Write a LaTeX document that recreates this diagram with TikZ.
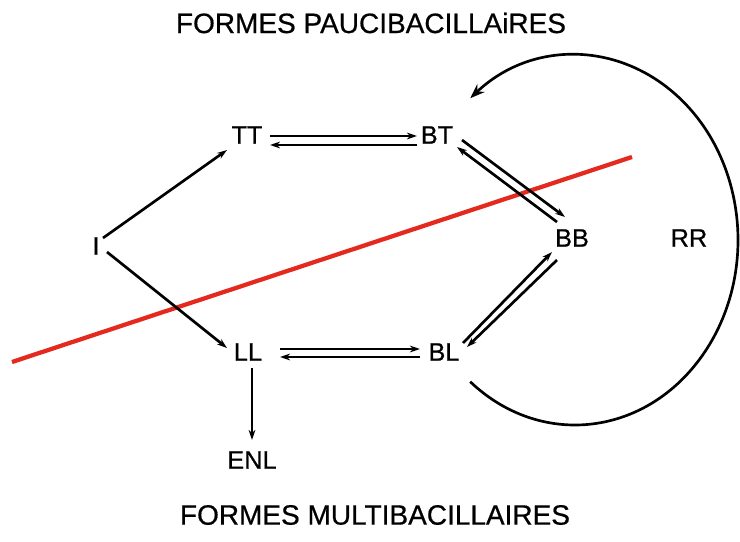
\documentclass[tikz,border=0pt]{standalone}
\usepackage{fontspec}
\setmainfont{Liberation Sans}
\newfontface\medfont{Liberation Sans}[FakeBold=0.6]
\usetikzlibrary{arrows.meta,calc}
\begin{document}
\begin{tikzpicture}[x=0.75pt,y=-0.75pt,
  lbl/.style={inner sep=0pt,font=\fontsize{19}{22}\medfont},
  ttl/.style={inner sep=0pt,font=\fontsize{21}{25}\medfont},
  arr/.style={line width=2pt,-{Stealth[length=7.5pt,width=5pt]}},
  redline/.style={line width=3.2pt,color=redl},
  loopline/.style={line width=2pt,-{Stealth[length=11pt,width=8pt]}},
]
\definecolor{redl}{RGB}{228,42,30}
\useasboundingbox (0,0) rectangle (740,542);
% titles
\node[ttl] (top) at (371,23) {FORMES PAUCIBACILLAiRES};
\node[ttl] (bot) at (375,515) {FORMES MULTIBACILLAIRES};
% red separation line
\coordinate (r1) at (12,362);
\coordinate (r2) at (632,157);
\draw[redline] (r1) -- (r2);
% nodes
\node[lbl] (I)   at (96,246)  {I};
\node[lbl] (TT)  at (247,135) {TT};
\node[lbl] (BT)  at (437,135) {BT};
\node[lbl] (LL)  at (248,352) {LL};
\node[lbl] (BL)  at (444,352) {BL};
\node[lbl] (BB)  at (572,238) {BB};
\node[lbl] (RR)  at (689,238) {RR};
\node[lbl] (ENL) at (252,460) {ENL};
% I to TT / LL
\draw[arr] ($(I)+(7,-8)$) -- ($(TT)+(-20,15)$);
\draw[arr] ($(I)+(11,6)$) -- ($(LL)+(-21,-4)$);
% TT <-> BT
\draw[arr] ($(TT)+(23,1)$) -- ($(BT)+(-20,1)$);
\draw[arr] ($(BT)+(-20,10)$) -- ($(TT)+(23,10)$);
% LL <-> BL
\draw[arr] ($(LL)+(32,-3)$) -- ($(BL)+(-24,-3)$);
\draw[arr] ($(BL)+(-24,5)$) -- ($(LL)+(32,5)$);
% BT <-> BB
\draw[arr] ($(BT)+(25,5)$) -- ($(BB)+(-7,-21)$);
\draw[arr] ($(BB)+(-15,-16)$) -- ($(BT)+(20,12)$);
% BL <-> BB
\draw[arr] ($(BL)+(19,-9)$) -- ($(BB)+(-20,14)$);
\draw[arr] ($(BB)+(-15,22)$) -- ($(BL)+(23,-5)$);
% LL -> ENL
\draw[arr] ($(LL)+(4,16)$) -- ($(ENL)+(0,-20)$);
% RR loop
\coordinate (c) at (575,240);
\draw[loopline] (c) ++(-130:122.25pt and 138.75pt)
  arc[start angle=-130,end angle=130,x radius=122.25pt,y radius=138.75pt];
\end{tikzpicture}
\end{document}
